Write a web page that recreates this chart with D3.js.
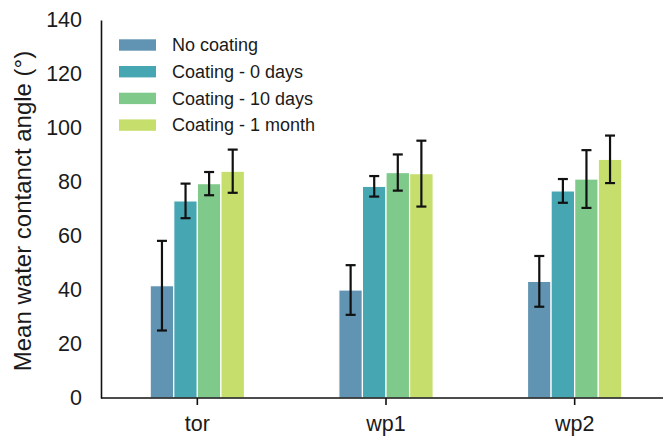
<!DOCTYPE html>
<html>
<head>
<meta charset="utf-8">
<script src="https://cdn.jsdelivr.net/npm/d3@7"></script>
<style>
  body { margin: 0; background: #fff; }
  svg text { font-family: "Liberation Sans", Arial, sans-serif; fill: #1a1a1a; }
</style>
</head>
<body>
<svg id="chart" width="663" height="439"></svg>
<script>
const categories = ["tor", "wp1", "wp2"];
const seriesNames = ["No coating", "Coating - 0 days", "Coating - 10 days", "Coating - 1 month"];
const seriesColors = ["#6094b2", "#46a6b2", "#7fca8b", "#c6de6b"];
const noCoating   = [41.6, 40.0, 43.2];
const coating0    = [73.0, 78.4, 76.7];
const coating10   = [79.4, 83.5, 81.1];
const coating1m   = [84.0, 83.1, 88.4];
const errNoCoating = [16.6, 9.2, 9.4];
const errCoating0  = [6.4, 3.8, 4.4];
const errCoating10 = [4.3, 6.7, 10.7];
const errCoating1m = [8.0, 12.2, 8.8];
const yTicks = [0, 20, 40, 60, 80, 100, 120, 140];

const values = [noCoating, coating0, coating10, coating1m];
const errors = [errNoCoating, errCoating0, errCoating10, errCoating1m];

const svg = d3.select("#chart");
const x = d3.scaleBand().domain(categories).range([103, 669]).paddingInner(0).paddingOuter(0);
const groupW = x.bandwidth() * 0.5;
const xs = d3.scaleBand().domain(d3.range(seriesNames.length)).range([0, groupW]);
const y = d3.scaleLinear().domain([0, 140]).range([398, 20]);

// bars
seriesNames.forEach((s, si) => {
  const g = svg.append("g");
  g.selectAll("rect").data(categories).join("rect")
    .attr("x", c => x(c) + (x.bandwidth() - groupW) / 2 + xs(si))
    .attr("width", xs.bandwidth())
    .attr("y", (c, i) => y(values[si][i]))
    .attr("height", (c, i) => y(0) - y(values[si][i]))
    .attr("fill", seriesColors[si])
    .attr("stroke", "#ffffff")
    .attr("stroke-width", 1.2);
});

// error bars
seriesNames.forEach((s, si) => {
  const g = svg.append("g").attr("stroke", "#111").attr("stroke-width", 2.2);
  categories.forEach((c, i) => {
    const cx = x(c) + (x.bandwidth() - groupW) / 2 + xs(si) + xs.bandwidth() / 2;
    const lo = y(values[si][i] - errors[si][i]);
    const hi = y(values[si][i] + errors[si][i]);
    g.append("line").attr("x1", cx).attr("x2", cx).attr("y1", lo).attr("y2", hi);
    g.append("line").attr("x1", cx - 5).attr("x2", cx + 5).attr("y1", lo).attr("y2", lo);
    g.append("line").attr("x1", cx - 5).attr("x2", cx + 5).attr("y1", hi).attr("y2", hi);
  });
});

// y axis
const yAxis = svg.append("g").attr("transform", "translate(101,0)")
  .call(d3.axisLeft(y).tickValues(yTicks).tickSize(0).tickPadding(19));
yAxis.select(".domain").attr("stroke", "#111").attr("stroke-width", 1.6);
yAxis.selectAll("text").style("font-size", "21.5px").style("fill", "#1a1a1a");

// x axis
const xAxis = svg.append("g").attr("transform", "translate(0,398)")
  .call(d3.axisBottom(x).tickSize(7).tickSizeOuter(0).tickPadding(11));
xAxis.select(".domain").attr("stroke", "#111").attr("stroke-width", 1.6)
  .attr("d", "M101,0H663");
xAxis.selectAll(".tick line").attr("stroke", "#111").attr("stroke-width", 1.6);
xAxis.selectAll("text").style("font-size", "21.5px").style("fill", "#1a1a1a");

// y title
svg.append("text")
  .attr("transform", "translate(31,211) rotate(-90)")
  .attr("text-anchor", "middle")
  .style("font-size", "24px")
  .text("Mean water contanct angle (°)");

// legend
const leg = svg.append("g");
seriesNames.forEach((s, i) => {
  const ly = 45 + i * 26.7;
  leg.append("rect").attr("x", 119).attr("y", ly - 5.7).attr("width", 37).attr("height", 11.4)
    .attr("fill", seriesColors[i]);
  leg.append("text").attr("x", 172).attr("y", ly).attr("dy", "0.35em")
    .style("font-size", "18px").text(s);
});
</script>
</body>
</html>
